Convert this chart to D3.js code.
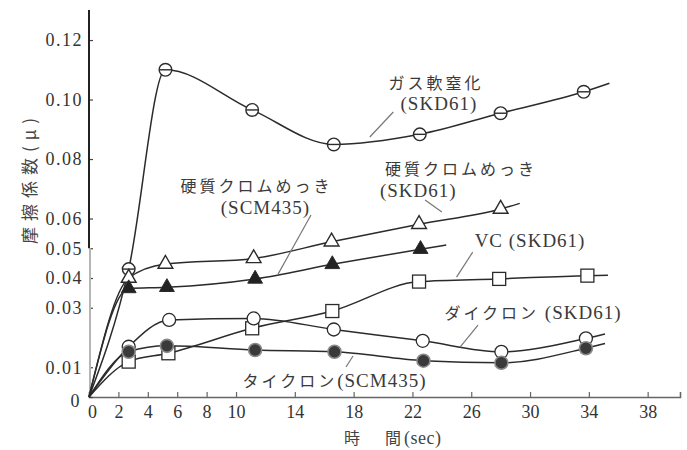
<!DOCTYPE html>
<html>
<head>
<meta charset="utf-8">
<script src="https://cdn.jsdelivr.net/npm/d3@7"></script>
<style>
  html, body { margin: 0; padding: 0; background: #fff; }
  svg { display: block; }
</style>
</head>
<body>
<svg id="chart" width="687" height="450"></svg>
<script>
// Friction coefficient (μ) against sliding time (sec) for six surface treatments.

// ガス軟窒化 (SKD61)  — circle with bar
const gasX = [2.7, 5.2, 11.1, 16.65, 22.5, 28.0, 33.65];
const gasY = [0.043, 0.110, 0.0965, 0.0849, 0.0883, 0.0954, 0.1026];
const gasEnd = [35.4, 0.1055];

// 硬質クロムめっき (SKD61) — open triangle
const crSkdX = [2.7, 5.2, 11.2, 16.5, 22.45, 28.0];
const crSkdY = [0.040, 0.0447, 0.0466, 0.0522, 0.0581, 0.0632];
const crSkdEnd = [29.3, 0.0651];

// 硬質クロムめっき (SCM435) — filled triangle
const crScmX = [2.7, 5.3, 11.3, 16.55, 22.55];
const crScmY = [0.0365, 0.0369, 0.0397, 0.0446, 0.0497];
const crScmEnd = [24.3, 0.0511];

// VC (SKD61) — open square
const vcX = [2.7, 5.4, 11.1, 16.55, 22.45, 27.9, 33.9];
const vcY = [0.0119, 0.0147, 0.0231, 0.0289, 0.0388, 0.0397, 0.0408];
const vcEnd = [35.3, 0.0409];

// ダイクロン (SKD61) — open circle
const dkSkdX = [2.7, 5.45, 11.2, 16.65, 22.7, 28.05, 33.8];
const dkSkdY = [0.0169, 0.0259, 0.0264, 0.0227, 0.0189, 0.0152, 0.0197];
const dkSkdEnd = [35.1, 0.0212];

// タイクロン (SCM435) — filled circle
const dkScmX = [2.7, 5.3, 11.3, 16.7, 22.75, 28.05, 33.8];
const dkScmY = [0.0152, 0.0172, 0.0158, 0.0152, 0.0122, 0.0115, 0.0164];
const dkScmEnd = [35.1, 0.0180];

const xTicks = [0, 2, 4, 6, 8, 10, 14, 18, 22, 26, 30, 34, 38];
const yTicks = [0, 0.01, 0.03, 0.04, 0.05, 0.06, 0.08, 0.10, 0.12];

const xTitle = ["時", "間", "(sec)"];
const yTitle = "摩擦係数(μ)";

const SERIF = "'Liberation Serif', 'DejaVu Serif', serif";
const CJK = "'Noto Sans CJK JP', sans-serif";

const svg = d3.select("#chart");

const x = d3.scaleLinear().domain([0, 40.2]).range([89, 680]);
const y = d3.scaleLinear().domain([0, 0.1301]).range([397, 10]);

const ink = "#2b2b2b";

function serifText(sel, size) {
  sel.style("font-family", SERIF).style("font-size", size + "px").style("fill", "#333");
}

// axes
const xAxis = d3.axisBottom(x).tickValues(xTicks).tickSize(-5).tickPadding(8)
  .tickFormat(d3.format("d"));
const gx = svg.append("g").attr("transform", `translate(0,${y(0)})`).call(xAxis);
gx.select(".domain").attr("stroke", "#666").attr("stroke-width", 1.6);
gx.selectAll(".tick line").attr("stroke", "#666").attr("stroke-width", 1.2);
gx.selectAll(".tick text").call(serifText, 18).attr("dy", "0.71em");
gx.selectAll(".tick").filter(d => d === 0).select("text").attr("dx", 3);

const yAxis = d3.axisLeft(y).tickValues(yTicks).tickSize(-4).tickPadding(6)
  .tickFormat(d => d === 0 ? "0" : d.toFixed(2));
const gy = svg.append("g").attr("transform", `translate(${x(0)},0)`).call(yAxis);
gy.select(".domain").remove();
gy.selectAll(".tick line").attr("stroke", "#444").attr("stroke-width", 1.2);
gy.selectAll(".tick text").call(serifText, 18).style("letter-spacing", "1.5px");
gy.selectAll(".tick").filter(d => d === 0).select("text").attr("dy", "0.5em").attr("dx", -2);

// the vertical axis is drawn in two tones: dark above 0.05, light below
svg.append("line").attr("x1", x(0)).attr("x2", x(0)).attr("y1", y(0.1301)).attr("y2", y(0.05))
  .attr("stroke", "#222").attr("stroke-width", 2);
svg.append("line").attr("x1", x(0) + 1).attr("x2", x(0) + 1).attr("y1", y(0.05)).attr("y2", y(0))
  .attr("stroke", "#b5b5b5").attr("stroke-width", 2);

// axis titles
svg.append("text")
  .attr("transform", `translate(28,178) rotate(-90)`)
  .attr("text-anchor", "middle").attr("dominant-baseline", "central")
  .style("font-family", CJK).style("font-size", "17px").style("letter-spacing", "6px")
  .style("fill", "#444").text(yTitle);

const xt = svg.append("text").attr("y", 444).style("fill", "#444");
xt.append("tspan").attr("x", 352).attr("text-anchor", "middle")
  .style("font-family", CJK).style("font-size", "16px").text(xTitle[0]);
xt.append("tspan").attr("x", 393).attr("text-anchor", "middle")
  .style("font-family", CJK).style("font-size", "16px").text(xTitle[1]);
svg.append("text").attr("x", 404).attr("y", 444)
  .style("font-family", SERIF).style("font-size", "18px").style("fill", "#444")
  .style("letter-spacing", "0.5px").text(xTitle[2]);

// series
const series = [
  { xs: gasX, ys: gasY, end: gasEnd, shape: "bar" },
  { xs: crSkdX, ys: crSkdY, end: crSkdEnd, shape: "tri" },
  { xs: crScmX, ys: crScmY, end: crScmEnd, shape: "triFill" },
  { xs: vcX, ys: vcY, end: vcEnd, shape: "square" },
  { xs: dkSkdX, ys: dkSkdY, end: dkSkdEnd, shape: "circle" },
  { xs: dkScmX, ys: dkScmY, end: dkScmEnd, shape: "circleFill" }
];

const line = d3.line().x(d => x(d[0])).y(d => y(d[1])).curve(d3.curveMonotoneX);

series.forEach(s => {
  const pts = [[0, 0]].concat(s.xs.map((v, i) => [v, s.ys[i]])).concat([s.end]);
  svg.append("path").attr("d", line(pts)).attr("fill", "none")
    .attr("stroke", ink).attr("stroke-width", 1.5);
});

const triPath = d3.symbol().type(d3.symbolTriangle).size(95);
series.forEach(s => {
  const g = svg.append("g");
  s.xs.forEach((v, i) => {
    const cx = x(v), cy = y(s.ys[i]);
    if (s.shape === "bar") {
      g.append("circle").attr("cx", cx).attr("cy", cy).attr("r", 6.3)
        .attr("fill", "#fff").attr("stroke", ink).attr("stroke-width", 1.4);
      g.append("line").attr("x1", cx - 6).attr("x2", cx + 6).attr("y1", cy).attr("y2", cy)
        .attr("stroke", ink).attr("stroke-width", 1.4);
    } else if (s.shape === "circle") {
      g.append("circle").attr("cx", cx).attr("cy", cy).attr("r", 6.5)
        .attr("fill", "#fff").attr("stroke", ink).attr("stroke-width", 1.3);
    } else if (s.shape === "circleFill") {
      g.append("circle").attr("cx", cx).attr("cy", cy).attr("r", 6.5)
        .attr("fill", "#3a3a3a").attr("stroke", "#8a8a8a").attr("stroke-width", 1.6);
    } else if (s.shape === "square") {
      g.append("rect").attr("x", cx - 6.5).attr("y", cy - 6.5).attr("width", 13).attr("height", 13)
        .attr("fill", "#fff").attr("stroke", ink).attr("stroke-width", 1.3);
    } else if (s.shape === "tri") {
      g.append("path").attr("d", triPath()).attr("transform", `translate(${cx},${cy})`)
        .attr("fill", "#fff").attr("stroke", ink).attr("stroke-width", 1.4);
    } else if (s.shape === "triFill") {
      g.append("path").attr("d", triPath()).attr("transform", `translate(${cx},${cy})`)
        .attr("fill", "#222").attr("stroke", ink).attr("stroke-width", 1);
    }
  });
});

// curve labels with leader lines (positions in data units)
const labels = [
  { lines: ["ガス軟窒化", "(SKD61)"], at: [[23.6, 0.1059], [23.8, 0.0990]], lead: [[20.7, 0.0958], [19.1, 0.0874]] },
  { lines: ["硬質クロムめっき", "(SCM435)"], at: [[11.4, 0.0713], [12.0, 0.0639]], lead: [[15.1, 0.0612], [12.86, 0.0413]] },
  { lines: ["硬質クロムめっき", "(SKD61)"], at: [[25.3, 0.0770], [22.4, 0.0697]], lead: [[22.86, 0.0662], [24.0, 0.0622]] },
  { lines: ["VC (SKD61)"], at: [[30.0, 0.0528]], lead: [[26.1, 0.0487], [25.0, 0.0403]] },
  { lines: ["ダイクロン (SKD61)"], at: [[30.2, 0.0286]], lead: [[26.46, 0.0242], [25.24, 0.0168]] },
  { lines: ["タイクロン(SCM435)"], at: [[16.7, 0.0057]], lead: [[17.96, 0.0138], [17.48, 0.0101]] }
];

function addMixed(textSel, str) {
  // Japanese runs in the CJK face, Latin runs in the serif face
  const parts = str.match(/[\u3000-\u9fff]+|[^\u3000-\u9fff]+/g);
  parts.forEach(p => {
    const isJp = /[\u3000-\u9fff]/.test(p);
    const ts = textSel.append("tspan").text(p).style("fill", "#3a3a3a");
    if (isJp) ts.style("font-family", CJK).style("font-size", "16px").style("letter-spacing", "3px");
    else ts.style("font-family", SERIF).style("font-size", "19px").style("letter-spacing", "1px");
  });
}

labels.forEach(l => {
  svg.append("line")
    .attr("x1", x(l.lead[0][0])).attr("y1", y(l.lead[0][1]))
    .attr("x2", x(l.lead[1][0])).attr("y2", y(l.lead[1][1]))
    .attr("stroke", "#777").attr("stroke-width", 1.2);
  l.lines.forEach((str, i) => {
    const t = svg.append("text")
      .attr("x", x(l.at[i][0])).attr("y", y(l.at[i][1]))
      .attr("text-anchor", "middle").attr("dominant-baseline", "central");
    addMixed(t, str);
  });
});
</script>
</body>
</html>
